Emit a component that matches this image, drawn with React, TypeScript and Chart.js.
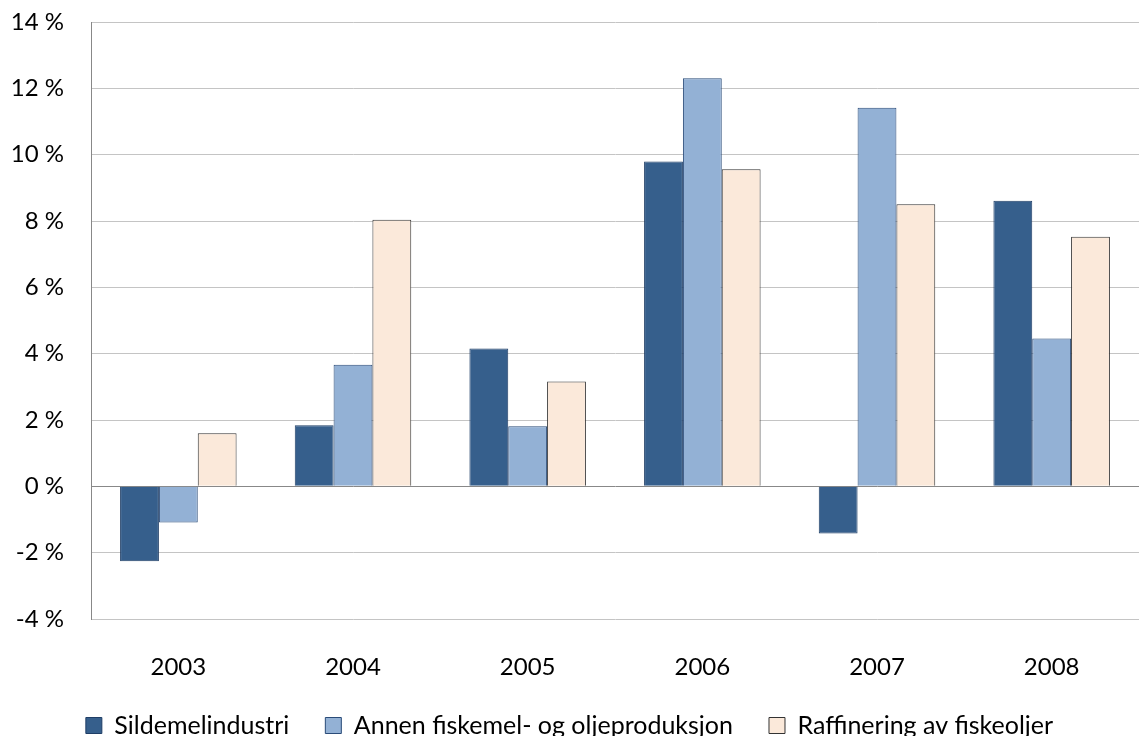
import React, { useEffect, useRef } from "react";
import { Chart, registerables } from "chart.js";

Chart.register(...registerables);

const years = ["2003", "2004", "2005", "2006", "2007", "2008"];
const sildemel = [-2.26, 1.84, 4.16, 9.8, -1.42, 8.61];
const annen = [-1.09, 3.67, 1.81, 12.31, 11.42, 4.46];
const raff = [1.6, 8.04, 3.16, 9.56, 8.51, 7.53];
const seriesNames = [
  "Sildemelindustri",
  "Annen fiskemel- og oljeproduksjon",
  "Raffinering av fiskeoljer",
];

const FONT = "Lato, 'Open Sans', sans-serif";

export default function App() {
  const ref = useRef<HTMLCanvasElement | null>(null);
  useEffect(() => {
    document.body.style.margin = "0";
    const ctx = ref.current!;
    const chart = new Chart(ctx, {
      type: "bar",
      data: {
        labels: years,
        datasets: [
          {
            label: seriesNames[0],
            data: sildemel,
            backgroundColor: "#365F8C",
            borderColor: "#1F3E66",
            borderWidth: 1,
          },
          {
            label: seriesNames[1],
            data: annen,
            backgroundColor: "#93B1D5",
            borderColor: "#2A4B78",
            borderWidth: 1,
          },
          {
            label: seriesNames[2],
            data: raff,
            backgroundColor: "#FBE9DA",
            borderColor: "#333333",
            borderWidth: 1,
          },
        ],
      },
      options: {
        responsive: false,
        animation: false,
        layout: { padding: { top: 0, right: 0, left: 0, bottom: -12 } },
        datasets: {
          bar: { categoryPercentage: 0.667, barPercentage: 1 },
        },
        scales: {
          x: {
            grid: { display: false, drawTicks: false },
            border: { display: false },
            ticks: {
              color: "#000",
              font: { family: FONT, size: 24 },
              padding: 34,
            },
            afterFit: (s: any) => {
              s.height = 58;
            },
          },
          y: {
            min: -4,
            max: 14,
            ticks: {
              stepSize: 2,
              color: "#000",
              font: { family: FONT, size: 24, lineHeight: 0.01 },
              padding: 22,
              callback: (v: any) => `${v} %`,
            },
            grid: {
              drawTicks: true,
              tickLength: 5,
              tickColor: "rgba(0,0,0,0)",
              color: (c: any) => (c.tick && c.tick.value === 0 ? "#888888" : "#C4C4C4"),
              lineWidth: 1,
            },
            border: { display: true, color: "#888888", width: 1 },
            afterFit: (s: any) => {
              s.width = 91;
            },
          },
        },
        plugins: {
          legend: {
            position: "bottom",
            labels: {
              color: "#000",
              font: { family: FONT, size: 25 },
              boxWidth: 16,
              boxHeight: 16,
              padding: 36,
            },
          },
          tooltip: { enabled: false },
        },
      },
    });
    return () => chart.destroy();
  }, []);
  return (
    <div style={{ width: 1139, height: 736 }}>
      <canvas ref={ref} width={1139} height={736} />
    </div>
  );
}
